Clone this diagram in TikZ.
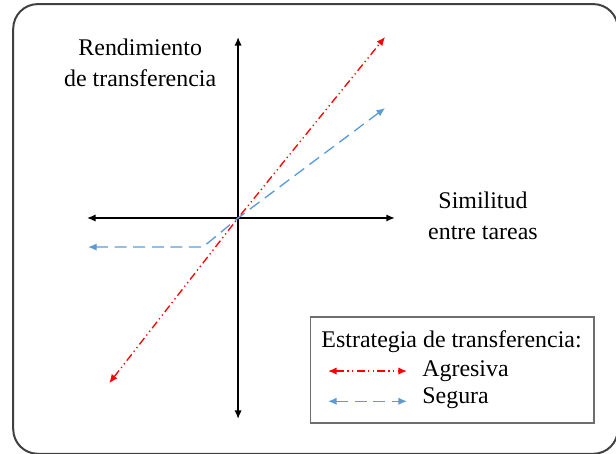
\documentclass[tikz,border=0pt]{standalone}
\usepackage{fontspec}
\setmainfont{Liberation Serif}
\usepackage{xcolor}
\usepackage{tikz}
\usetikzlibrary{arrows.meta,positioning}

\definecolor{framegray}{RGB}{64,64,64}
\definecolor{legendgray}{RGB}{110,110,110}
\definecolor{segurablue}{RGB}{91,155,213}

\begin{document}
\begin{tikzpicture}[
    >={Latex[length=6.5pt,width=5.5pt]},
    axis/.style={<->, line width=1.2pt, black},
    agresiva/.style={<->, line width=1pt, red, dash pattern=on 6pt off 2.5pt on 1pt off 2.5pt on 1pt off 2.5pt},
    segura/.style={<->, line width=1pt, segurablue, dash pattern=on 9pt off 5pt},
    label/.style={font=\fontsize{18}{23}\selectfont, align=center, inner sep=0pt},
    legendbox/.style={rectangle, draw=legendgray, line width=1.1pt, minimum width=7.51cm, minimum height=2.8cm},
    frame/.style={draw=framegray, line width=1.5pt, rounded corners=0.65cm}
]
\useasboundingbox (-6.30,-6.245) rectangle (10.0,5.768);

% Outer frame
\draw[frame] (-5.95,-6.24) rectangle (10.05,5.66);

% Axes
\coordinate (O) at (0,0);
\coordinate (ytop) at (0,4.79);
\coordinate (ybot) at (0,-5.32);
\coordinate (xleft) at (-4.0,0);
\coordinate (xright) at (4.15,0);
\draw[axis] (ybot) -- (ytop);
\draw[axis] (xleft) -- (xright);

% Axis labels
\node[label] (ylabel) at (-2.59,4.11) {Rendimiento\\de transferencia};
\node[label] (xlabel) at (6.48,0.05) {Similitud\\entre tareas};

% Strategies
\coordinate (rtop) at (3.89,4.79);
\coordinate (rbot) at (-3.41,-4.37);
\draw[agresiva] (rbot) -- (O) -- (rtop);

\coordinate (btop) at (3.89,2.91);
\coordinate (bkink) at (-0.93,-0.77);
\coordinate (bleft) at (-3.97,-0.77);
\draw[segura] (bleft) -- (bkink) -- (O) -- (btop);

% Legend
\node[legendbox] (legend) at (5.665,-4.02) {};
\node[label, anchor=west] (legtitle) at (2.20,-3.28) {Estrategia de transferencia:};
\coordinate (la1) at (2.38,-4.05);
\coordinate (la2) at (4.47,-4.05);
\coordinate (ls1) at (2.38,-4.85);
\coordinate (ls2) at (4.47,-4.85);
\draw[agresiva] (la1) -- (la2);
\draw[segura] (ls1) -- (ls2);
\node[label, anchor=west] (agresiva) at (4.87,-4.05) {Agresiva};
\node[label, anchor=west] (segura) at (4.87,-4.76) {Segura};

\end{tikzpicture}
\end{document}
